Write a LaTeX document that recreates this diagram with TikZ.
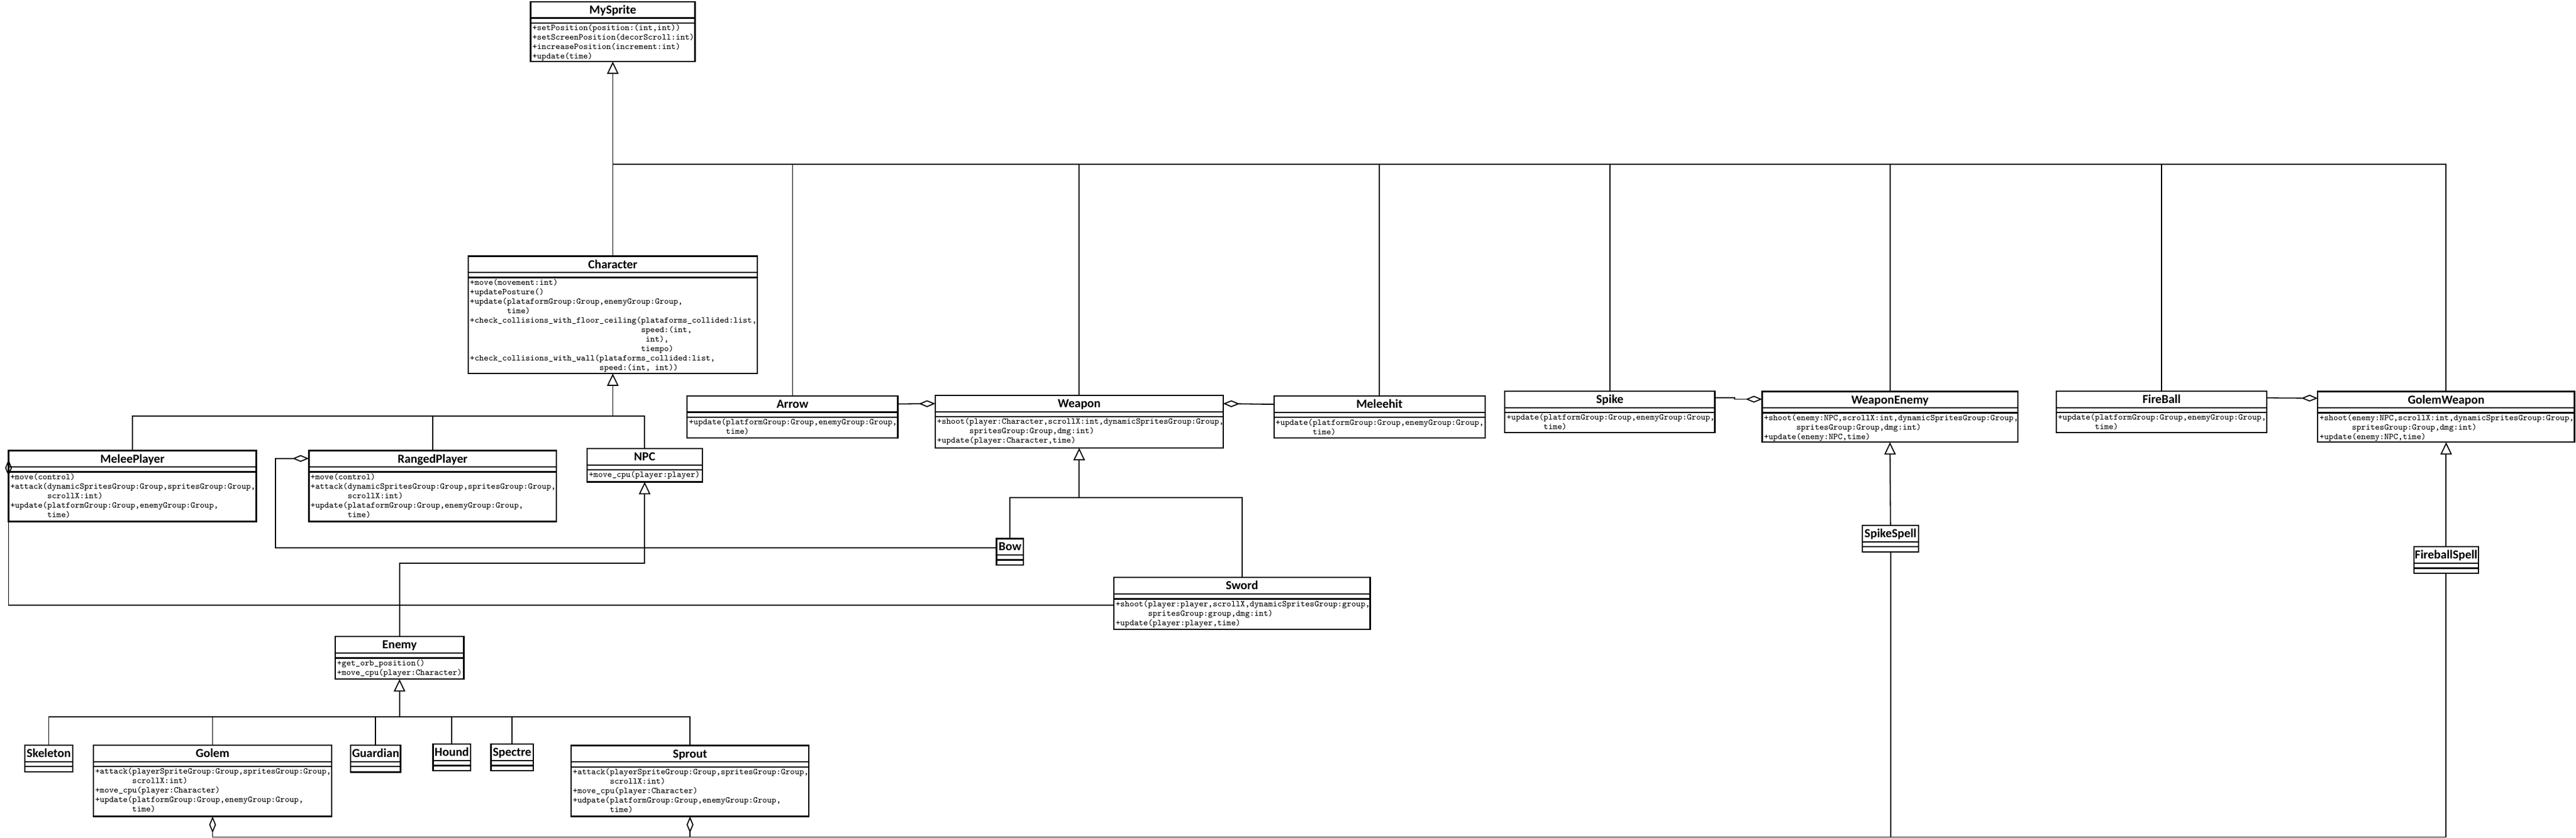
\documentclass[tikz,border=0pt]{standalone}
\usepackage{fontspec}
\newfontfamily\classfont{Carlito}
\usetikzlibrary{arrows.meta}
\tikzset{
    classbox/.style={draw, line width=0.8pt, anchor=north west, inner sep=0pt, outer sep=0pt},
    classline/.style={line width=0.8pt},
    classname/.style={anchor=base, inner sep=0pt, font=\classfont\bfseries\fontsize{7.5}{9}\selectfont},
    classops/.style={anchor=north west, align=left, inner xsep=0.9pt, inner ysep=0.7pt,
        font=\ttfamily\fontsize{5.3}{5.75}\selectfont},
    link/.style={line width=0.65pt},
    inherits/.style={link, -{Triangle[open, length=7.5pt, width=7pt]}},
    aggregates/.style={link, -{Diamond[open, length=10pt, width=4.2pt]}}
}
% name, top left corner, width, height, title, operations
\newcommand{\umlclass}[6]{
    \node[classbox, minimum width=#3, minimum height=#4] (#1) at (#2) {};
    \node[classname] (#1-name) at ([yshift=-7.4]#1.north) {#5};
    \draw[classline] ([yshift=-10]#1.north west) -- ([yshift=-10]#1.north east);
    \draw[classline] ([yshift=-13]#1.north west) -- ([yshift=-13]#1.north east);
    \node[classops] (#1-ops) at ([yshift=-13]#1.north west) {#6};
}
\begin{document}
\begin{tikzpicture}[x=1pt, y=-1pt]
    \useasboundingbox (0,0) rectangle (1568,510.3);

    \umlclass{MySprite}{323,1}{100}{36.5}{MySprite}{+setPosition(position:(int,int))\\
        +setScreenPosition(decorScroll:int)\\+increasePosition(increment:int)\\+update(time)}
    \umlclass{Character}{285,156}{176}{71.5}{Character}{+move(movement:int)\\+updatePosture()\\
        +update(plataformGroup:Group,enemyGroup:Group,\\\phantom{+update(}time)\\
        +check\_collisions\_with\_floor\_ceiling(plataforms\_collided:list,\\
        \phantom{+check\_collisions\_with\_floor\_ceiling(}speed:(int,\\
        \phantom{+check\_collisions\_with\_floor\_ceiling(}\ int),\\
        \phantom{+check\_collisions\_with\_floor\_ceiling(}tiempo)\\
        +check\_collisions\_with\_wall(plataforms\_collided:list,\\
        \phantom{+check\_collisions\_with\_wall(}speed:(int, int))}
    \umlclass{MeleePlayer}{5.2,274.4}{150.8}{43.2}{MeleePlayer}{+move(control)\\
        +attack(dynamicSpritesGroup:Group,spritesGroup:Group,\\\phantom{+attack(}scrollX:int)\\
        +update(platformGroup:Group,enemyGroup:Group,\\\phantom{+update(}time)}
    \umlclass{RangedPlayer}{188,274.4}{150.7}{43.2}{RangedPlayer}{+move(control)\\
        +attack(dynamicSpritesGroup:Group,spritesGroup:Group,\\\phantom{+attack(}scrollX:int)\\
        +update(plataformGroup:Group,enemyGroup:Group,\\\phantom{+update(}time)}
    \umlclass{NPC}{357.4,273.2}{70}{20.3}{NPC}{+move\_cpu(player:player)}
    \umlclass{Arrow}{418.3,241}{128.2}{25.8}{Arrow}{+update(platformGroup:Group,enemyGroup:Group,\\
        \phantom{+update(}time)}
    \umlclass{Weapon}{569.3,240.8}{175.2}{32}{Weapon}{+shoot(player:Character,scrollX:int,dynamicSpritesGroup:Group,\\
        \phantom{+shoot(}spritesGroup:Group,dmg:int)\\+update(player:Character,time)}
    \umlclass{Meleehit}{775.4,241.2}{128.5}{25.6}{Meleehit}{+update(platformGroup:Group,enemyGroup:Group,\\
        \phantom{+update(}time)}
    \umlclass{Spike}{916,238.2}{127.8}{25.2}{Spike}{+update(platformGroup:Group,enemyGroup:Group,\\
        \phantom{+update(}time)}
    \umlclass{WeaponEnemy}{1072.6,238.4}{155.6}{30.9}{WeaponEnemy}{+shoot(enemy:NPC,scrollX:int,dynamicSpritesGroup:Group,\\
        \phantom{+shoot(}spritesGroup:Group,dmg:int)\\+update(enemy:NPC,time)}
    \umlclass{FireBall}{1251.6,238.2}{128.3}{25.2}{FireBall}{+update(platformGroup:Group,enemyGroup:Group,\\
        \phantom{+update(}time)}
    \umlclass{GolemWeapon}{1410.8,238.4}{156.3}{30.9}{GolemWeapon}{+shoot(enemy:NPC,scrollX:int,dynamicSpritesGroup:Group,\\
        \phantom{+shoot(}spritesGroup:Group,dmg:int)\\+update(enemy:NPC,time)}
    \umlclass{Bow}{606.6,328}{16.4}{16}{Bow}{}
    \umlclass{Sword}{678,351.7}{156}{31.5}{Sword}{+shoot(player:player,scrollX,dynamicSpritesGroup:group,\\
        \phantom{+shoot(}spritesGroup:group,dmg:int)\\+update(player:player,time)}
    \umlclass{SpikeSpell}{1133.7,320}{34.1}{16}{SpikeSpell}{}
    \umlclass{FireballSpell}{1469.4,333}{39.1}{16.2}{FireballSpell}{}
    \umlclass{Enemy}{204.1,387.7}{78.2}{25.9}{Enemy}{+get\_orb\_position()\\+move\_cpu(player:Character)}
    \umlclass{Skeleton}{15,453.8}{29.4}{16.1}{Skeleton}{}
    \umlclass{Golem}{56.9,453.8}{145}{43.4}{Golem}{+attack(playerSpriteGroup:Group,spritesGroup:Group,\\
        \phantom{+attack(}scrollX:int)\\+move\_cpu(player:Character)\\
        +update(platformGroup:Group,enemyGroup:Group,\\\phantom{+update(}time)}
    \umlclass{Guardian}{213.5,453.9}{30.3}{16.3}{Guardian}{}
    \umlclass{Hound}{263.6,453.2}{22.8}{16.1}{Hound}{}
    \umlclass{Spectre}{298.9,453.2}{25.6}{16.1}{Spectre}{}
    \umlclass{Sprout}{347.6,454}{144.8}{43.2}{Sprout}{+attack(playerSpriteGroup:Group,spritesGroup:Group,\\
        \phantom{+attack(}scrollX:int)\\+move\_cpu(player:Character)\\
        +udpate(platformGroup:Group,enemyGroup:Group,\\\phantom{+udpate(}time)}

    \coordinate (spritebus) at (MySprite.south |- 0,100);
    \coordinate (charbus) at (Character.south |- 0,253.3);
    \coordinate (weaponbus) at (Weapon.south |- 0,303);
    \coordinate (npcbend) at (NPC.south |- 0,343);
    \coordinate (enemybus) at (Enemy.south |- 0,436.5);
    \coordinate (golemcorner) at (FireballSpell.south |- 0,509.8);
    \coordinate (sproutcorner) at (SpikeSpell.south |- 0,509.8);

    \draw[inherits] (spritebus) -- (MySprite.south);
    \foreach \c in {Character,Arrow,Weapon,Meleehit,Spike,WeaponEnemy,FireBall,GolemWeapon}
        \draw[link] (\c.north) |- (spritebus);
    \draw[inherits] (charbus) -- (Character.south);
    \foreach \c in {MeleePlayer,RangedPlayer,NPC}
        \draw[link] (\c.north) |- (charbus);
    \draw[inherits] (weaponbus) -- (Weapon.south);
    \foreach \c in {Bow,Sword}
        \draw[link] (\c.north) |- (weaponbus);
    \draw[inherits] (Enemy.north) |- (npcbend) -- (NPC.south);
    \draw[inherits] (enemybus) -- (Enemy.south);
    \foreach \c in {Skeleton,Golem,Guardian,Hound,Spectre,Sprout}
        \draw[link] (\c.north) |- (enemybus);
    \draw[inherits] (SpikeSpell.north) -- (WeaponEnemy.south);
    \draw[inherits] (FireballSpell.north) -- (GolemWeapon.south);

    \draw[aggregates] ([yshift=-5]Arrow.north east) -- ([yshift=-5]Weapon.north west);
    \draw[aggregates] ([yshift=-5]Meleehit.north west) -- ([yshift=-5]Weapon.north east);
    \draw[aggregates] ([yshift=-4.1]Spike.north east) -- ++(12,0) |- ([yshift=-4.7]WeaponEnemy.north west);
    \draw[aggregates] ([yshift=-4.1]FireBall.north east) -- ([yshift=-4.1]GolemWeapon.north west);
    \draw[aggregates] ([yshift=-5.5]Bow.north west) -| ([xshift=-20.2]RangedPlayer.west) |- ([yshift=-4.8]RangedPlayer.north west);
    \draw[aggregates] ([yshift=-16.8]Sword.north west) -| ([yshift=-5.5]MeleePlayer.north west);
    \draw[aggregates] (FireballSpell.south) -- (golemcorner) -| (Golem.south);
    \draw[aggregates] (SpikeSpell.south) -- (sproutcorner) -| (Sprout.south);
\end{tikzpicture}
\end{document}
